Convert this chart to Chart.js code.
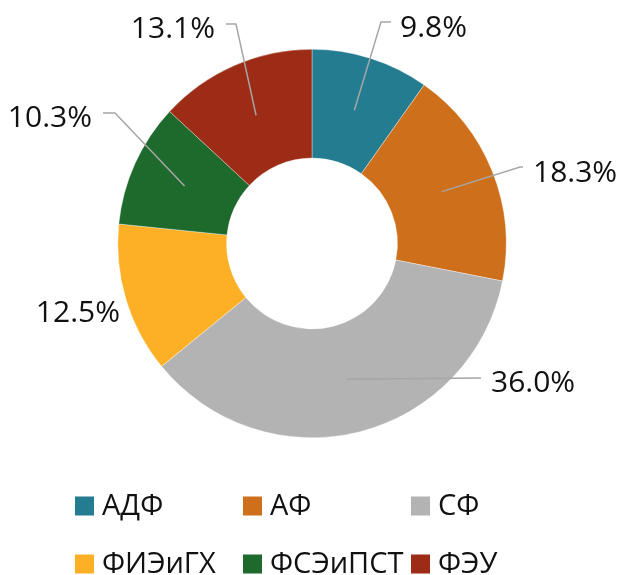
<!DOCTYPE html>
<html>
<head>
<meta charset="utf-8">
<script src="https://cdn.jsdelivr.net/npm/chart.js@4.4.1/dist/chart.umd.min.js"></script>
<style>
  html, body { margin: 0; padding: 0; background: #fff; }
  #wrap { width: 619px; height: 575px; }
</style>
</head>
<body>
<div id="wrap"><canvas id="c" width="619" height="575"></canvas></div>
<script>
const categories = ['АДФ', 'АФ', 'СФ', 'ФИЭиГХ', 'ФСЭиПСТ', 'ФЭУ'];
const shares = [9.8, 18.3, 36.0, 12.5, 10.3, 13.1];
const colors = ['#247C91', '#CE701B', '#B3B3B3', '#FDB025', '#1E6A2C', '#9C2C16'];

const FONT = '"Open Sans", "Noto Sans", sans-serif';

// label layout relative to doughnut centre: elbow point, horizontal end, text anchor
const labelLayout = [
  { elbow: [69, -221.5], end: [79, -221.5], text: [88, -206.5], align: 'left' },
  { elbow: [208, -76.5], end: [211, -76.5], text: [221, -61.5], align: 'left' },
  { elbow: [169, 134.5], end: [169, 134.5], text: [179, 148.5], align: 'left' },
  { elbow: null, end: null, text: [-192, 78.5], align: 'right' },
  { elbow: [-197, -130.5], end: [-209, -130.5], text: [-220, -116.5], align: 'right' },
  { elbow: [-76, -219.5], end: [-86, -219.5], text: [-97, -205.5], align: 'right' }
];

const labelPlugin = {
  id: 'doughnutLabels',
  afterDatasetsDraw(chart) {
    const ctx = chart.ctx;
    const meta = chart.getDatasetMeta(0);
    ctx.save();
    meta.data.forEach((arc, i) => {
      const p = arc.getProps(['x', 'y', 'startAngle', 'endAngle', 'innerRadius', 'outerRadius'], true);
      const mid = (p.startAngle + p.endAngle) / 2;
      const r = (p.innerRadius + p.outerRadius) / 2;
      const sx = p.x + Math.cos(mid) * r;
      const sy = p.y + Math.sin(mid) * r;
      const L = labelLayout[i];
      if (L.elbow) {
        ctx.beginPath();
        ctx.strokeStyle = '#A6A6A6';
        ctx.lineWidth = 1.5;
        ctx.moveTo(sx, sy);
        ctx.lineTo(p.x + L.elbow[0], p.y + L.elbow[1]);
        ctx.lineTo(p.x + L.end[0], p.y + L.end[1]);
        ctx.stroke();
      }
      ctx.fillStyle = '#111';
      ctx.font = '30px ' + FONT;
      ctx.textAlign = L.align;
      ctx.textBaseline = 'alphabetic';
      ctx.fillText(shares[i].toFixed(1) + '%', p.x + L.text[0], p.y + L.text[1]);
    });
    ctx.restore();
  }
};

const legendPlugin = {
  id: 'gridLegend',
  afterDraw(chart) {
    const ctx = chart.ctx;
    const colX = [75, 243, 411];
    const rowY = [506, 564];
    ctx.save();
    ctx.font = '29px ' + FONT;
    ctx.textAlign = 'left';
    ctx.textBaseline = 'middle';
    categories.forEach((name, i) => {
      const x = colX[i % 3];
      const y = rowY[Math.floor(i / 3)];
      ctx.fillStyle = colors[i];
      ctx.fillRect(x, y - 9.5, 19, 19);
      ctx.fillStyle = '#111';
      ctx.fillText(name, x + 27, y + 1);
    });
    ctx.restore();
  }
};

new Chart(document.getElementById('c'), {
  type: 'doughnut',
  data: {
    labels: categories,
    datasets: [{
      data: shares,
      backgroundColor: colors,
      borderColor: 'rgba(255,255,255,0.6)',
      borderWidth: 0.6
    }]
  },
  options: {
    responsive: false,
    animation: false,
    cutout: '44%',
    layout: { padding: { top: 49, bottom: 137, left: 5, right: 0 } },
    plugins: {
      legend: { display: false },
      tooltip: { enabled: false }
    }
  },
  plugins: [labelPlugin, legendPlugin]
});
</script>
</body>
</html>
